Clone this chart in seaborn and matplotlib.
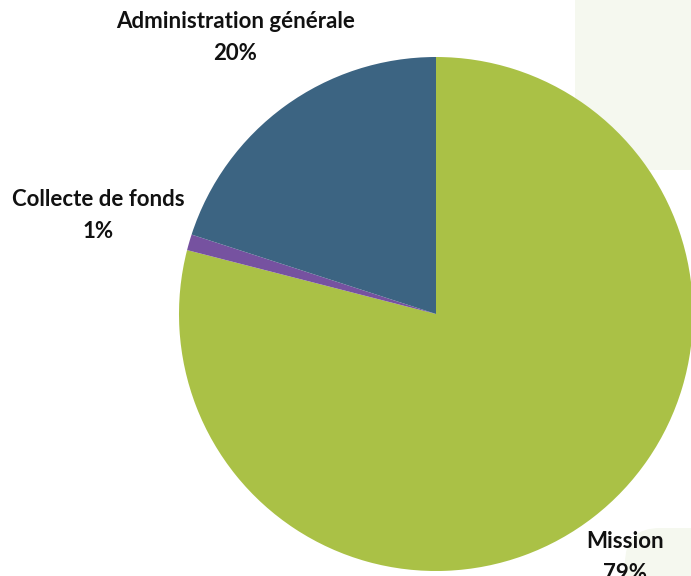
import numpy as np
import matplotlib.pyplot as plt
import seaborn as sns
from matplotlib.patches import FancyBboxPatch

categories = ["Mission", "Collecte de fonds", "Administration générale"]
values = [79, 1, 20]
pct_labels = ["79%", "1%", "20%"]
colors = ["#AAC146", "#7652A0", "#3C6482"]
label_dist = [1.20, 1.37, 1.33]

sns.set_theme(style="white")
plt.rcParams["font.family"] = ["Lato", "DejaVu Sans"]

W, H = 691, 576
fig = plt.figure(figsize=(W / 100, H / 100), dpi=100)

# faint decorative background shapes
bg = fig.add_axes([0, 0, 1, 1])
bg.set_xlim(0, W)
bg.set_ylim(H, 0)
bg.axis("off")
bg.add_patch(FancyBboxPatch((575, -40), 160, 210, boxstyle="round,pad=0,rounding_size=35",
                            fc="#F5F8EF", ec="none"))
bg.add_patch(FancyBboxPatch((625, 528), 120, 120, boxstyle="round,pad=0,rounding_size=35",
                            fc="#F5F8EF", ec="none"))

cx, cy, r = 436, 314, 257
ax = fig.add_axes([(cx - r) / W, (H - cy - r) / H, 2 * r / W, 2 * r / H])
wedges, _ = ax.pie(values, colors=colors, startangle=90, counterclock=False,
                   wedgeprops=dict(linewidth=0))
ax.set_xlim(-1, 1)
ax.set_ylim(-1, 1)
ax.set_aspect("auto")

for w, cat, pct, d in zip(wedges, categories, pct_labels, label_dist):
    ang = np.deg2rad((w.theta1 + w.theta2) / 2)
    x, y = d * np.cos(ang), d * np.sin(ang)
    ax.text(x, y, f"{cat}\n{pct}", ha="center", va="center", fontsize=16,
            fontweight="bold", color="#111111", linespacing=1.65, clip_on=False)

fig.savefig("out.png", dpi=100)
